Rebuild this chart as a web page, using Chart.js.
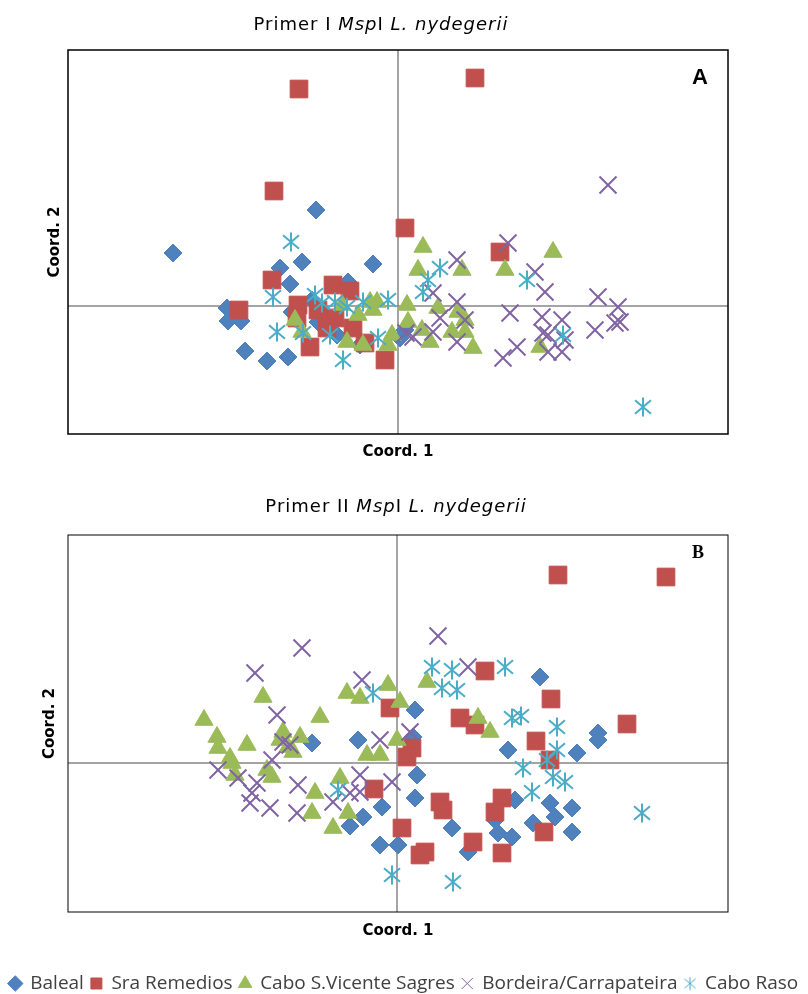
<!DOCTYPE html>
<html lang="pt">
<head>
<meta charset="UTF-8">
<title>Primer I / Primer II MspI L. nydegerii</title>
<script src="https://cdn.jsdelivr.net/npm/chart.js"></script>
<style>
  body { margin: 0; background: #fff; width: 808px; height: 994px; overflow: hidden; position: relative; }
  #wrapA { position: absolute; left: 0; top: 0; width: 808px; height: 480px; }
  #wrapB { position: absolute; left: 0; top: 480px; width: 808px; height: 523px; }
</style>
</head>
<body>
<div id="wrapA"><canvas id="chartA" width="808" height="480"></canvas></div>
<div id="wrapB"><canvas id="chartB" width="808" height="523"></canvas></div>
<script>
// population names (legend order)
const populations = ['Baleal', 'Sra Remedios', 'Cabo S.Vicente Sagres', 'Bordeira/Carrapateira', 'Cabo Raso'];
const colors = ['#4F81BD', '#C0504D', '#9BBB59', '#8064A2', '#4BACC6'];

// Primer I - [Coord. 1, Coord. 2]
const balealA = [[-2.25,0.53],[-0.82,0.96],[-1.18,0.38],[-0.96,0.44],[-0.25,0.42],[-0.50,0.24],[-1.08,0.22],[-1.71,-0.02],[-1.70,-0.15],[-1.57,-0.15],[-1.53,-0.45],[-1.31,-0.55],[-1.10,-0.51],[-1.06,-0.06],[-0.80,-0.16],[-0.61,-0.29],[0.02,-0.32],[0.07,-0.24],[-0.38,-0.39],[-0.86,0.06]];
const remediosA = [[-0.99,2.17],[0.77,2.28],[-1.24,1.15],[0.07,0.78],[1.02,0.54],[-1.26,0.26],[-1.59,-0.04],[-1.00,0.01],[-1.01,-0.12],[-0.65,0.21],[-0.48,0.15],[-0.63,-0.12],[-0.45,-0.22],[-0.71,-0.22],[-0.88,-0.41],[-0.33,-0.37],[-0.13,-0.54],[-0.80,-0.04]];
const sagresA = [[-1.03,-0.14],[-0.96,-0.26],[-0.56,0.01],[-0.40,-0.09],[-0.21,0.04],[-0.25,-0.04],[-0.51,-0.36],[-0.35,-0.39],[-0.06,-0.29],[-0.10,-0.39],[0.09,0.01],[0.10,-0.16],[0.25,0.59],[0.20,0.36],[0.64,0.36],[1.07,0.36],[1.55,0.54],[0.40,-0.02],[0.24,-0.24],[0.32,-0.36],[0.60,-0.06],[0.67,-0.14],[0.54,-0.26],[0.67,-0.26],[0.75,-0.42],[1.42,-0.41],[-0.28,0.04]];
const bordeiraA = [[0.59,0.46],[1.10,0.63],[1.37,0.34],[1.47,0.14],[0.35,0.13],[0.59,0.04],[1.12,-0.07],[0.42,-0.12],[0.67,-0.14],[0.35,-0.26],[0.15,-0.31],[0.59,-0.36],[1.19,-0.41],[1.05,-0.52],[2.10,1.21],[2.00,0.09],[2.20,-0.01],[1.97,-0.24],[2.22,-0.16],[2.17,-0.17],[1.44,-0.11],[1.45,-0.27],[1.64,-0.14],[1.50,-0.46],[1.64,-0.46],[1.67,-0.34],[1.50,-0.29],[0.08,-0.27]];
const rasoA = [[-1.07,0.64],[-1.25,0.09],[-1.21,-0.26],[-0.83,0.11],[-0.76,0.03],[-0.63,0.04],[-0.51,-0.01],[-0.35,0.04],[-0.10,0.06],[-0.95,-0.27],[-0.68,-0.29],[-0.55,-0.54],[-0.20,-0.32],[0.42,0.38],[0.30,0.26],[0.25,0.14],[1.29,0.26],[1.65,-0.29],[2.45,-1.01]];

// Primer II - [Coord. 1, Coord. 2]
const balealB = [[-0.85,0.20],[0.18,0.53],[0.16,0.26],[-0.39,0.23],[1.11,0.13],[1.43,0.86],[1.80,0.10],[2.01,0.30],[2.01,0.23],[0.20,-0.12],[0.18,-0.35],[-0.15,-0.44],[-0.34,-0.54],[-0.47,-0.63],[0.55,-0.65],[-0.17,-0.82],[0.01,-0.82],[0.71,-0.89],[0.98,-0.57],[1.01,-0.70],[1.15,-0.74],[1.18,-0.37],[1.53,-0.40],[1.75,-0.45],[1.58,-0.54],[1.36,-0.60],[1.75,-0.69]];
const remediosB = [[1.61,1.88],[2.69,1.86],[1.54,0.64],[2.30,0.39],[1.39,0.22],[1.53,0.03],[0.88,0.92],[-0.07,0.55],[0.63,0.45],[0.78,0.38],[0.15,0.15],[0.10,0.06],[-0.23,-0.26],[0.43,-0.39],[0.46,-0.47],[0.05,-0.65],[0.28,-0.89],[0.23,-0.92],[0.76,-0.79],[1.05,-0.35],[0.98,-0.49],[1.05,-0.90],[1.47,-0.69]];
const sagresB = [[-1.34,0.66],[-0.77,0.46],[-1.93,0.43],[-1.80,0.26],[-1.79,0.15],[-1.50,0.18],[-1.14,0.31],[-0.97,0.26],[-1.09,0.16],[-1.04,0.11],[-1.67,0.05],[-0.50,0.70],[-1.17,0.23],[-0.09,0.78],[-0.37,0.65],[0.03,0.61],[0.30,0.81],[0.81,0.45],[0.93,0.31],[0.00,0.23],[-0.30,0.08],[-0.17,0.08],[-1.65,0.00],[-1.62,-0.12],[-1.30,-0.07],[-1.25,-0.14],[-0.82,-0.30],[-0.85,-0.50],[-0.64,-0.65],[-0.57,-0.15],[-0.49,-0.50]];
const bordeiraB = [[-0.95,1.15],[-1.42,0.90],[-1.20,0.48],[-1.14,0.21],[-1.07,0.18],[-1.25,0.03],[0.41,1.27],[-0.35,0.83],[0.71,0.96],[-0.17,0.23],[0.13,0.31],[-1.79,-0.07],[-1.59,-0.15],[-1.40,-0.20],[-1.45,-0.30],[-0.99,-0.22],[-1.47,-0.40],[-1.27,-0.45],[-1.00,-0.50],[-0.64,-0.39],[-0.47,-0.30],[-0.37,-0.12],[-0.05,-0.19],[-0.37,-0.29]];
const rasoB = [[0.35,0.96],[0.55,0.93],[1.08,0.96],[0.45,0.75],[0.60,0.73],[-0.24,0.70],[1.15,0.45],[1.24,0.47],[1.60,0.36],[1.60,0.13],[1.50,0.03],[1.26,-0.05],[1.56,-0.14],[1.68,-0.19],[1.35,-0.29],[2.45,-0.50],[-0.05,-1.12],[0.56,-1.19],[-0.59,-0.27]];

// axis ranges
const rangeA = { xMin: -3.30, xMax: 3.30, yMin: -1.28, yMax: 2.56 };
const rangeB = { xMin: -3.29, xMax: 3.31, yMin: -1.49, yMax: 2.28 };

// asterisk marker (Excel style: vertical bar + X)
function makeAsterisk(size, lw, color) {
  const c = document.createElement('canvas');
  c.width = size; c.height = size;
  const g = c.getContext('2d');
  g.strokeStyle = color; g.lineWidth = lw;
  const m = size / 2, d = size * 0.4;
  g.beginPath();
  g.moveTo(m, 0.5); g.lineTo(m, size - 0.5);
  g.moveTo(m - d, m - d * 0.85); g.lineTo(m + d, m + d * 0.85);
  g.moveTo(m + d, m - d * 0.85); g.lineTo(m - d, m + d * 0.85);
  g.stroke();
  return c;
}
const starBig = makeAsterisk(20, 2, colors[4]);
const starSmall = makeAsterisk(14, 1, colors[4]);

const styles = ['rectRot', 'rect', 'triangle', 'crossRot', starBig];
const radii = [9, 12.5, 10.5, 12, 10];
const borders = [1, 1, 1, 2, 1];
const legendStyles = ['rectRot', 'rect', 'triangle', 'crossRot', starSmall];

function makeDatasets(sets) {
  return sets.map((pts, i) => ({
    label: populations[i],
    data: pts.map(p => ({ x: p[0], y: p[1] })),
    pointStyle: styles[i],
    pointRadius: radii[i],
    backgroundColor: colors[i],
    borderColor: colors[i],
    pointBorderWidth: borders[i],
    order: 5 - i
  }));
}

const decor = {
  id: 'decor',
  beforeDatasetsDraw(chart) {
    const { ctx, chartArea: a } = chart;
    const x0 = chart.scales.x.getPixelForValue(0);
    const y0 = chart.scales.y.getPixelForValue(0);
    ctx.save();
    ctx.strokeStyle = '#878787';
    ctx.lineWidth = 1.5;
    ctx.beginPath();
    ctx.moveTo(x0, a.top); ctx.lineTo(x0, a.bottom);
    ctx.moveTo(a.left, y0); ctx.lineTo(a.right, y0);
    ctx.stroke();
    ctx.restore();
  },
  afterDraw(chart) {
    const o = chart.options.plugins.decor;
    const { ctx, chartArea: a } = chart;
    ctx.save();
    ctx.strokeStyle = '#000';
    ctx.lineWidth = o.frameWidth;
    ctx.strokeRect(a.left, a.top, a.right - a.left, a.bottom - a.top);

    // title with italic parts
    ctx.fillStyle = '#000';
    ctx.textBaseline = 'middle';
    ctx.textAlign = 'left';
    ctx.letterSpacing = '1px';
    const fontFor = it => (it ? 'italic ' : '') + '18px "DejaVu Sans", sans-serif';
    let total = 0;
    o.title.forEach(([t, it]) => { ctx.font = fontFor(it); total += ctx.measureText(t).width; });
    let tx = o.titleX - total / 2;
    o.title.forEach(([t, it]) => {
      ctx.font = fontFor(it);
      ctx.fillText(t, tx, o.titleY);
      tx += ctx.measureText(t).width;
    });
    ctx.letterSpacing = '0px';

    // axis titles
    ctx.font = 'bold 15px "DejaVu Sans", sans-serif';
    ctx.textAlign = 'center';
    ctx.fillText('Coord. 1', (a.left + a.right) / 2, a.bottom + o.xTitleGap);
    ctx.save();
    ctx.translate(a.left - o.yTitleGap, (a.top + a.bottom) / 2);
    ctx.rotate(-Math.PI / 2);
    ctx.fillText('Coord. 2', 0, 0);
    ctx.restore();

    // panel letter
    ctx.font = o.letterFont;
    ctx.fillText(o.letter, o.letterX, o.letterY);
    ctx.restore();
  }
};

const hidden = { ticks: { display: false }, grid: { display: false }, border: { display: false } };

// Chart A
new Chart(document.getElementById('chartA'), {
  type: 'scatter',
  data: { datasets: makeDatasets([balealA, remediosA, sagresA, bordeiraA, rasoA]) },
  options: {
    responsive: false,
    animation: false,
    events: [],
    layout: { padding: { left: 68, right: 80, top: 50, bottom: 46 } },
    scales: {
      x: { type: 'linear', display: false, min: rangeA.xMin, max: rangeA.xMax },
      y: { type: 'linear', display: false, min: rangeA.yMin, max: rangeA.yMax }
    },
    plugins: {
      legend: { display: false },
      tooltip: { enabled: false },
      decor: {
        frameWidth: 1.5,
        title: [['Primer I ', false], ['Msp', true], ['I ', false], ['L. nydegerii', true]],
        titleX: 381, titleY: 25,
        xTitleGap: 18, yTitleGap: 13,
        letter: 'A', letterFont: 'bold 22px "Liberation Sans", sans-serif', letterX: 700, letterY: 78
      }
    }
  },
  plugins: [decor]
});

// Chart B
const canvasBHeight = 523;
const plotBBottom = 432;
new Chart(document.getElementById('chartB'), {
  type: 'scatter',
  data: { datasets: makeDatasets([balealB, remediosB, sagresB, bordeiraB, rasoB]) },
  options: {
    responsive: false,
    animation: false,
    events: [],
    layout: { padding: { left: 0, right: 0, top: 55, bottom: 0 } },
    scales: {
      x: Object.assign({ type: 'linear', min: rangeB.xMin, max: rangeB.xMax,
        afterFit: s => { s.height = Math.max(0, canvasBHeight - plotBBottom - (s.chart.legend ? s.chart.legend.height : 0)); } }, hidden),
      y: Object.assign({ type: 'linear', position: 'left', min: rangeB.yMin, max: rangeB.yMax,
        afterFit: s => { s.width = 68; } }, hidden),
      yr: Object.assign({ type: 'linear', position: 'right', display: true,
        afterFit: s => { s.width = 80; } }, hidden)
    },
    plugins: {
      tooltip: { enabled: false },
      legend: {
        position: 'bottom',
        labels: {
          usePointStyle: true,
          boxHeight: 11,
          boxWidth: 11,
          padding: 7,
          color: '#404040',
          font: { family: '"Open Sans", sans-serif', size: 19 },
          generateLabels: chart => chart.data.datasets.map((ds, i) => ({
            text: ds.label,
            fillStyle: ds.backgroundColor,
            strokeStyle: ds.borderColor,
            lineWidth: 1,
            pointStyle: legendStyles[i],
            rotation: 0,
            hidden: false,
            datasetIndex: i,
            fontColor: '#404040'
          }))
        }
      },
      decor: {
        frameWidth: 1,
        title: [['Primer II ', false], ['Msp', true], ['I ', false], ['L. nydegerii', true]],
        titleX: 396, titleY: 27,
        xTitleGap: 19, yTitleGap: 18,
        letter: 'B', letterFont: 'bold 18px "Liberation Serif", serif', letterX: 698, letterY: 73
      }
    }
  },
  plugins: [decor]
});
</script>
</body>
</html>
